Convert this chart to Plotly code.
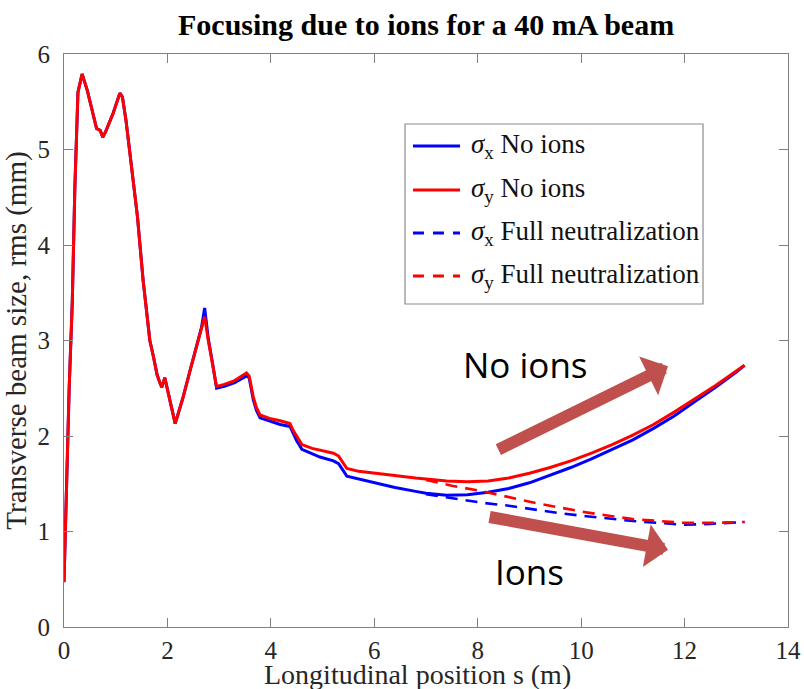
import plotly.graph_objects as go

# ---- data ----
s_solid = [0, 0.05, 0.10, 0.16, 0.21, 0.27, 0.35, 0.45, 0.55, 0.63, 0.70, 0.75, 0.80, 0.95,
           1.08, 1.13, 1.20, 1.28, 1.42, 1.53, 1.66, 1.73, 1.80, 1.86, 1.89, 1.95, 1.99, 2.07,
           2.15, 2.30, 2.44, 2.56, 2.66, 2.72, 2.79, 2.86, 2.95, 3.10, 3.30, 3.53, 3.58, 3.66,
           3.72, 3.79, 4.00, 4.18, 4.37, 4.43, 4.50, 4.60, 4.80, 4.95, 5.21, 5.31, 5.47, 5.70,
           6.00, 6.40, 6.80, 7.00, 7.40, 7.80, 8.20, 8.60, 9.00, 9.40, 9.80, 10.20, 10.60, 11.00,
           11.40, 11.80, 12.20, 12.60, 13.00, 13.16]

sigma_y_noions = [0.47, 1.60, 2.50, 3.40, 4.60, 5.60, 5.79, 5.62, 5.40, 5.22, 5.20, 5.13, 5.18, 5.38,
                  5.59, 5.55, 5.30, 4.92, 4.30, 3.63, 3.00, 2.83, 2.64, 2.55, 2.51, 2.61, 2.50, 2.32,
                  2.13, 2.40, 2.69, 2.92, 3.12, 3.25, 3.00, 2.80, 2.52, 2.54, 2.58, 2.66, 2.63, 2.41,
                  2.30, 2.22, 2.18, 2.16, 2.13, 2.06, 2.00, 1.91, 1.87, 1.85, 1.82, 1.79, 1.66, 1.63,
                  1.61, 1.58, 1.56, 1.55, 1.53, 1.52, 1.53, 1.56, 1.61, 1.67, 1.74, 1.82, 1.91, 2.01,
                  2.12, 2.25, 2.39, 2.53, 2.68, 2.74]

sigma_x_noions = [0.47, 1.60, 2.50, 3.40, 4.60, 5.60, 5.79, 5.62, 5.40, 5.22, 5.20, 5.13, 5.18, 5.38,
                  5.59, 5.55, 5.30, 4.92, 4.30, 3.63, 3.00, 2.83, 2.64, 2.55, 2.51, 2.61, 2.50, 2.32,
                  2.13, 2.40, 2.69, 2.92, 3.14, 3.34, 3.02, 2.80, 2.50, 2.52, 2.56, 2.63, 2.61, 2.38,
                  2.27, 2.19, 2.15, 2.12, 2.10, 2.03, 1.95, 1.86, 1.81, 1.78, 1.74, 1.71, 1.58, 1.55,
                  1.51, 1.46, 1.42, 1.40, 1.38, 1.385, 1.41, 1.45, 1.51, 1.59, 1.67, 1.76, 1.86, 1.96,
                  2.08, 2.21, 2.36, 2.51, 2.67, 2.74]

s_neutral = [7.0, 7.5, 8.1, 8.6, 9.1, 9.6, 10.1, 10.6, 11.0, 11.5, 12.0, 12.5, 13.16]
sigma_y_neutral = [1.54, 1.48, 1.42, 1.36, 1.30, 1.25, 1.20, 1.16, 1.13, 1.11, 1.09, 1.09, 1.10]
sigma_x_neutral = [1.39, 1.35, 1.30, 1.27, 1.23, 1.19, 1.16, 1.13, 1.11, 1.09, 1.07, 1.08, 1.10]

legend_labels = ["<i>σ</i><sub>x</sub> No ions", "<i>σ</i><sub>y</sub> No ions",
                 "<i>σ</i><sub>x</sub> Full neutralization", "<i>σ</i><sub>y</sub> Full neutralization"]

x_title = "Longitudinal position s (m)"
y_title = "Transverse beam size, rms (mm)"

BLUE = "#0000FF"
RED = "#FF0000"
ARROW = "#C0504D"
SERIF = "Liberation Serif"

fig = go.Figure()
fig.add_trace(go.Scatter(x=s_solid, y=sigma_x_noions, mode="lines", name=legend_labels[0],
                         line=dict(color=BLUE, width=3)))
fig.add_trace(go.Scatter(x=s_solid, y=sigma_y_noions, mode="lines", name=legend_labels[1],
                         line=dict(color=RED, width=3)))
fig.add_trace(go.Scatter(x=s_neutral, y=sigma_x_neutral, mode="lines", name=legend_labels[2],
                         line=dict(color=BLUE, width=2.6, dash="12px,8px")))
fig.add_trace(go.Scatter(x=s_neutral, y=sigma_y_neutral, mode="lines", name=legend_labels[3],
                         line=dict(color=RED, width=2.6, dash="12px,8px")))

# ---- manual legend box (MATLAB style) ----
L_X0, L_X1, L_Y0, L_Y1 = 0.471, 0.8826, 0.5637, 0.8778
row_y = [0.8394, 0.7627, 0.6876, 0.6126]
row_col = [BLUE, RED, BLUE, RED]
row_dash = ["solid", "solid", "11px,9px", "11px,9px"]
shapes = [dict(type="rect", xref="paper", yref="paper", x0=L_X0, x1=L_X1, y0=L_Y0, y1=L_Y1,
               line=dict(color="#8c8c8c", width=1.2), fillcolor="white", layer="above")]
annotations = []
for yy, col, dsh, lab in zip(row_y, row_col, row_dash, legend_labels):
    shapes.append(dict(type="line", xref="paper", yref="paper", x0=0.482, x1=0.547, y0=yy, y1=yy,
                       line=dict(color=col, width=3, dash=dsh), layer="above"))
    annotations.append(dict(xref="paper", yref="paper", x=0.5595, y=yy, text=lab, showarrow=False,
                            xanchor="left", yanchor="middle",
                            font=dict(family=SERIF, size=27, color="#111111")))

# ---- x-axis title (just under the tick labels) ----
annotations.append(dict(xref="paper", yref="paper", x=0.4876, y=0, yshift=-47, text=x_title,
                        showarrow=False, xanchor="center", yanchor="middle",
                        font=dict(family=SERIF, size=28, color="#262626")))

# ---- arrows and texts ----
annotations += [
    dict(x=11.68, y=2.73, ax=8.37, ay=1.85, xref="x", yref="y", axref="x", ayref="y", text="",
         showarrow=True, arrowhead=1, arrowsize=0.6, arrowwidth=12, arrowcolor=ARROW),
    dict(x=11.68, y=0.81, ax=8.20, ay=1.155, xref="x", yref="y", axref="x", ayref="y", text="",
         showarrow=True, arrowhead=1, arrowsize=0.6, arrowwidth=12, arrowcolor=ARROW),
    dict(x=8.93, y=2.75, xref="x", yref="y", text="No ions", showarrow=False,
         font=dict(family="Open Sans", size=35, color="black")),
    dict(x=9.0, y=0.58, xref="x", yref="y", text="Ions", showarrow=False,
         font=dict(family="Open Sans", size=35, color="black")),
]

axis_common = dict(showline=True, linecolor="#808080", linewidth=1, mirror="ticks",
                   ticks="inside", ticklen=9, tickcolor="#808080", tickwidth=1,
                   showgrid=False, zeroline=False, automargin=False,
                   tickfont=dict(family=SERIF, size=25, color="#262626"))

fig.update_layout(
    width=804, height=689,
    margin=dict(l=64, r=16, t=54, b=62, autoexpand=False),
    paper_bgcolor="white", plot_bgcolor="white",
    showlegend=False,
    title=dict(text="<b>Focusing due to ions for a 40 mA beam</b>", x=0.53, xref="container",
               y=0.965, yref="container", xanchor="center", yanchor="middle",
               font=dict(family=SERIF, size=30, color="black"), automargin=False),
    xaxis=dict(range=[0, 14], tickvals=[0, 2, 4, 6, 8, 10, 12, 14], ticklabelstandoff=1,
               **axis_common),
    yaxis=dict(range=[0, 6], tickvals=[0, 1, 2, 3, 4, 5, 6], ticklabelstandoff=8,
               title=dict(text=y_title, standoff=2,
                          font=dict(family=SERIF, size=29, color="#262626")),
               **axis_common),
    shapes=shapes,
    annotations=annotations,
)

fig.write_html("out.html")
